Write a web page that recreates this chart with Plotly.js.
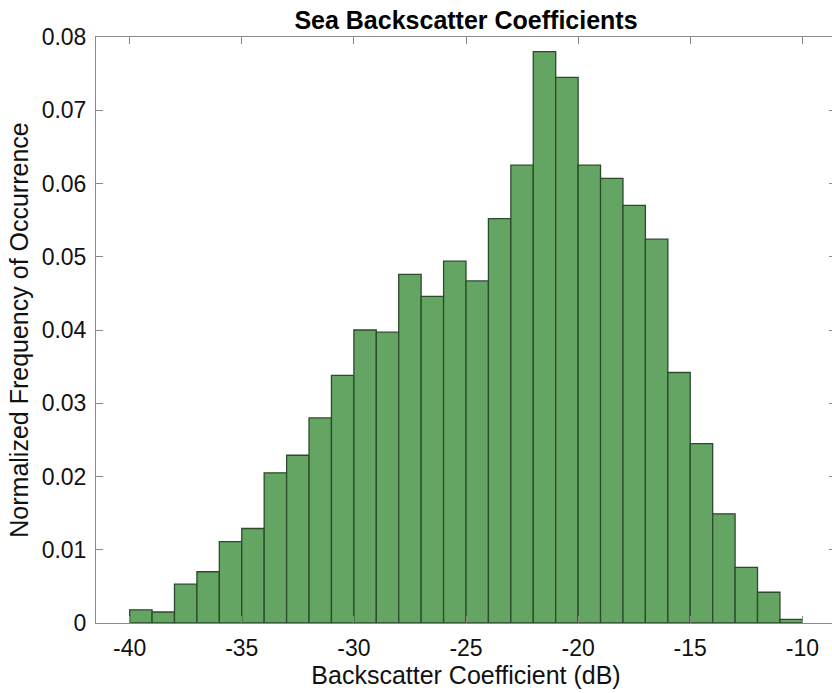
<!DOCTYPE html>
<html>
<head>
<meta charset="utf-8">
<script src="https://cdn.plot.ly/plotly-3.0.1.min.js"></script>
<style>
html, body { margin: 0; padding: 0; overflow: hidden; background: #fff; }
#chart { width: 840px; height: 693px; }
</style>
</head>
<body>
<div id="chart"></div>
<script>
// Bin left edges (dB), bin width 1
var binLeft = [-40, -39, -38, -37, -36, -35, -34, -33, -32, -31,
               -30, -29, -28, -27, -26, -25, -24, -23, -22, -21,
               -20, -19, -18, -17, -16, -15, -14, -13, -12, -11];
var binWidth = 1;
// Normalized frequency of occurrence
var freq = [0.0018, 0.0015, 0.0053, 0.0070, 0.0111, 0.0129, 0.0205, 0.0229, 0.0280, 0.0338,
            0.0400, 0.0397, 0.0476, 0.0446, 0.0494, 0.0467, 0.0552, 0.0625, 0.0780, 0.0745,
            0.0625, 0.0607, 0.0570, 0.0524, 0.0342, 0.0245, 0.0149, 0.0076, 0.0042, 0.0005];
var xTickVals = [-40, -35, -30, -25, -20, -15, -10];
var xTickText = ["-40", "-35", "-30", "-25", "-20", "-15", "-10"];
var yTickVals = [0, 0.01, 0.02, 0.03, 0.04, 0.05, 0.06, 0.07, 0.08];
var yTickText = ["0", "0.01", "0.02", "0.03", "0.04", "0.05", "0.06", "0.07", "0.08"];

var centers = binLeft.map(function (e) { return e + binWidth / 2; });

var trace = {
  type: 'bar',
  x: centers,
  y: freq,
  width: binWidth,
  marker: { color: '#64a564', line: { color: '#2c4a2c', width: 1.3 } },
  hoverinfo: 'x+y'
};

var font = 'Liberation Sans, Arial, Helvetica, sans-serif';
var layout = {
  width: 840,
  height: 693,
  margin: { l: 96, r: 4, t: 37, b: 70 },
  paper_bgcolor: '#fff',
  plot_bgcolor: '#fff',
  showlegend: false,
  bargap: 0,
  title: {
    text: '<b>Sea Backscatter Coefficients</b>',
    font: { family: font, size: 25, color: '#000' },
    x: 0.5, xref: 'paper', xanchor: 'center',
    y: 1, yref: 'paper', yanchor: 'bottom', pad: { b: 8 }
  },
  xaxis: {
    range: [-41.5, -8.5],
    tickvals: xTickVals,
    ticktext: xTickText,
    ticks: 'inside',
    ticklen: 7,
    tickcolor: '#8a8a8a',
    showline: true,
    linecolor: '#8a8a8a',
    linewidth: 1,
    mirror: 'ticks',
    showgrid: false,
    zeroline: false,
    tickfont: { family: font, size: 23, color: '#111' },
    ticklabelstandoff: 4,
    title: { text: 'Backscatter Coefficient (dB)', font: { family: font, size: 25, color: '#111' }, standoff: 5 }
  },
  yaxis: {
    range: [0, 0.08],
    tickvals: yTickVals,
    ticktext: yTickText,
    ticks: 'inside',
    ticklen: 7,
    tickcolor: '#8a8a8a',
    showline: true,
    linecolor: '#8a8a8a',
    linewidth: 1,
    mirror: 'ticks',
    showgrid: false,
    zeroline: false,
    tickfont: { family: font, size: 23, color: '#111' },
    ticklabelstandoff: 4,
    title: { text: 'Normalized Frequency of Occurrence', font: { family: font, size: 25, color: '#111' }, standoff: 5 }
  }
};

Plotly.newPlot('chart', [trace], layout, { displayModeBar: false, staticPlot: true });
</script>
</body>
</html>
